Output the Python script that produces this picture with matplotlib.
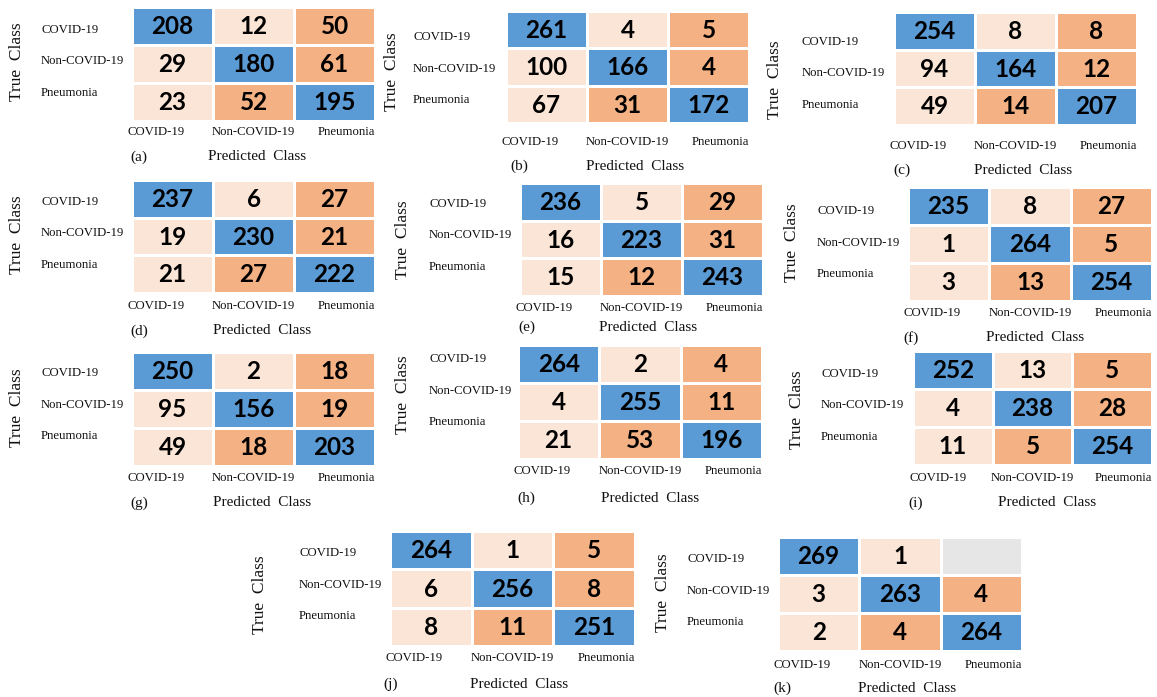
import numpy as np
import matplotlib
matplotlib.use("Agg")
import matplotlib.pyplot as plt
from matplotlib.colors import ListedColormap

classes = ["COVID-19", "Non-COVID-19", "Pneumonia"]
tags = ["(a)", "(b)", "(c)", "(d)", "(e)", "(f)", "(g)", "(h)", "(i)", "(j)", "(k)"]

cm_a = [[208, 12, 50], [29, 180, 61], [23, 52, 195]]
cm_b = [[261, 4, 5], [100, 166, 4], [67, 31, 172]]
cm_c = [[254, 8, 8], [94, 164, 12], [49, 14, 207]]
cm_d = [[237, 6, 27], [19, 230, 21], [21, 27, 222]]
cm_e = [[236, 5, 29], [16, 223, 31], [15, 12, 243]]
cm_f = [[235, 8, 27], [1, 264, 5], [3, 13, 254]]
cm_g = [[250, 2, 18], [95, 156, 19], [49, 18, 203]]
cm_h = [[264, 2, 4], [4, 255, 11], [21, 53, 196]]
cm_i = [[252, 13, 5], [4, 238, 28], [11, 5, 254]]
cm_j = [[264, 1, 5], [6, 256, 8], [8, 11, 251]]
cm_k = [[269, 1, None], [3, 263, 4], [2, 4, 264]]

matrices = [cm_a, cm_b, cm_c, cm_d, cm_e, cm_f, cm_g, cm_h, cm_i, cm_j, cm_k]

W, H = 1157, 697
# layout (pixels): grid x0,x1,y0,y1 ; row-label x, first row-label y ; True Class x,y ;
# column-label y ; tag x ; caption y ; Predicted Class center x
layout = [
    (132, 375, 7, 121, 41, 30, 17, 62, 132, 130, 157, 257),
    (506, 749, 11, 123, 413, 37, 392, 72, 142, 510, 166, 635),
    (894, 1137, 12, 125, 802, 42, 775, 80, 146, 893, 170, 1023),
    (132, 375, 180, 293, 41, 202, 17, 235, 306, 130, 331, 262),
    (520, 763, 183, 296, 429, 204, 403, 240, 308, 518, 327, 648),
    (908, 1152, 187, 301, 817, 211, 792, 243, 313, 903, 338, 1035),
    (132, 375, 352, 466, 41, 373, 17, 408, 478, 130, 503, 262),
    (518, 762, 345, 459, 429, 359, 403, 395, 471, 517, 498, 650),
    (913, 1152, 351, 465, 821, 374, 797, 410, 478, 908, 503, 1047),
    (390, 635, 531, 646, 299, 553, 260, 595, 658, 383, 684, 519),
    (778, 1022, 537, 651, 687, 559, 663, 593, 665, 773, 688, 907),
]

c_diag = "#5B9BD5"
c_light = "#FBE5D6"
c_orange = "#F4B183"
c_empty = "#E7E6E6"
cmap = ListedColormap([c_light, c_orange, c_diag, c_empty])
# colour class by cell position: 0 light, 1 orange, 2 diagonal
pos_style = np.array([[2, 0, 1], [0, 2, 1], [0, 1, 2]])

serif = "Liberation Serif"
numfont = "Lato"

fig = plt.figure(figsize=(W / 100, H / 100), dpi=100)
fig.patch.set_facecolor("white")

def fx(x):
    return x / W

def fy(y):
    return 1 - y / H

for mat, tag, lay in zip(matrices, tags, layout):
    x0, x1, y0, y1, rlx, rly, tx, ty, cly, tgx, capy, pcx = lay
    ax = fig.add_axes([fx(x0), fy(y1), (x1 - x0) / W, (y1 - y0) / H])
    style = pos_style.copy().astype(float)
    for r in range(3):
        for c in range(3):
            if mat[r][c] is None:
                style[r, c] = 3
    ax.pcolormesh(np.arange(4), np.arange(4), style, cmap=cmap, vmin=-0.5, vmax=3.5,
                  edgecolors="white", linewidth=0.9)
    ax.set_xlim(0, 3)
    ax.set_ylim(3, 0)
    ax.set_axis_off()
    for r in range(3):
        for c in range(3):
            v = mat[r][c]
            if v is None:
                continue
            ax.text(c + 0.5, r + 0.52, str(v), ha="center", va="center",
                    fontsize=17.5, fontweight="bold", family=numfont, color="#000000")
    # row labels
    for i, name in enumerate(classes):
        fig.text(fx(rlx), fy(rly + 31.5 * i), name, ha="left", va="center",
                 fontsize=9.2, family=serif, color="#111111")
    fig.text(fx(tx), fy(ty), "True  Class", rotation=90, ha="center", va="center",
             fontsize=12.5, family=serif, color="#111111")
    # column labels
    fig.text(fx(x0 - 4), fy(cly), classes[0], ha="left", va="center",
             fontsize=9.2, family=serif, color="#111111")
    fig.text(fx((x0 + x1) / 2), fy(cly), classes[1], ha="center", va="center",
             fontsize=9.2, family=serif, color="#111111")
    fig.text(fx(x1), fy(cly), classes[2], ha="right", va="center",
             fontsize=9.2, family=serif, color="#111111")
    fig.text(fx(tgx), fy(capy), tag, ha="left", va="center",
             fontsize=11, family=serif, color="#111111")
    fig.text(fx(pcx), fy(capy), "Predicted  Class", ha="center", va="center",
             fontsize=11, family=serif, color="#111111")

fig.savefig("out.png", dpi=100, facecolor="white")
